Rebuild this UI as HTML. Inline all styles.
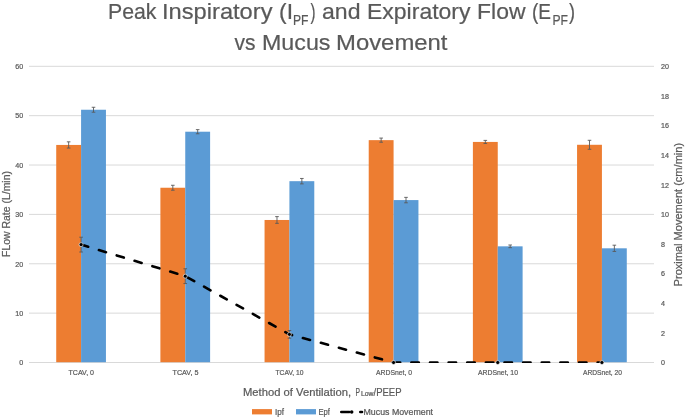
<!DOCTYPE html>
<html><head><meta charset="utf-8"><style>
html,body{margin:0;padding:0;background:#fff;width:685px;height:418px;overflow:hidden}
svg{display:block;will-change:transform}
text{font-family:"Liberation Sans", sans-serif;stroke:#595959;stroke-width:0.22px;paint-order:stroke}
</style></head><body>
<svg width="685" height="418" viewBox="0 0 685 418">
<rect width="685" height="418" fill="#fff"/>
<line x1="29.0" y1="362.50" x2="654.0" y2="362.50" stroke="#D9D9D9" stroke-width="1"/>
<line x1="29.0" y1="313.13" x2="654.0" y2="313.13" stroke="#D9D9D9" stroke-width="1"/>
<line x1="29.0" y1="263.77" x2="654.0" y2="263.77" stroke="#D9D9D9" stroke-width="1"/>
<line x1="29.0" y1="214.40" x2="654.0" y2="214.40" stroke="#D9D9D9" stroke-width="1"/>
<line x1="29.0" y1="165.03" x2="654.0" y2="165.03" stroke="#D9D9D9" stroke-width="1"/>
<line x1="29.0" y1="115.67" x2="654.0" y2="115.67" stroke="#D9D9D9" stroke-width="1"/>
<line x1="29.0" y1="66.30" x2="654.0" y2="66.30" stroke="#D9D9D9" stroke-width="1"/>
<rect x="56.22" y="144.94" width="24.86" height="217.26" fill="#ED7D31"/>
<rect x="81.08" y="109.74" width="24.86" height="252.46" fill="#5B9BD5"/>
<rect x="160.39" y="187.74" width="24.86" height="174.46" fill="#ED7D31"/>
<rect x="185.25" y="131.71" width="24.86" height="230.49" fill="#5B9BD5"/>
<rect x="264.56" y="219.98" width="24.86" height="142.22" fill="#ED7D31"/>
<rect x="289.42" y="181.18" width="24.86" height="181.02" fill="#5B9BD5"/>
<rect x="368.72" y="140.15" width="24.86" height="222.05" fill="#ED7D31"/>
<rect x="393.58" y="200.08" width="24.86" height="162.12" fill="#5B9BD5"/>
<rect x="472.89" y="141.93" width="24.86" height="220.27" fill="#ED7D31"/>
<rect x="497.75" y="246.34" width="24.86" height="115.86" fill="#5B9BD5"/>
<rect x="577.06" y="144.79" width="24.86" height="217.41" fill="#ED7D31"/>
<rect x="601.92" y="248.31" width="24.86" height="113.89" fill="#5B9BD5"/>
<path d="M68.65 141.83V148.05M66.85 141.83H70.45M66.85 148.05H70.45" stroke="#595959" stroke-width="0.9" fill="none"/>
<path d="M93.51 107.27V112.21M91.71 107.27H95.31M91.71 112.21H95.31" stroke="#595959" stroke-width="0.9" fill="none"/>
<path d="M172.82 185.27V190.21M171.02 185.27H174.62M171.02 190.21H174.62" stroke="#595959" stroke-width="0.9" fill="none"/>
<path d="M197.68 129.64V133.78M195.88 129.64H199.48M195.88 133.78H199.48" stroke="#595959" stroke-width="0.9" fill="none"/>
<path d="M276.99 216.62V223.34M275.19 216.62H278.79M275.19 223.34H278.79" stroke="#595959" stroke-width="0.9" fill="none"/>
<path d="M301.85 178.46V183.89M300.05 178.46H303.65M300.05 183.89H303.65" stroke="#595959" stroke-width="0.9" fill="none"/>
<path d="M381.15 138.08V142.23M379.35 138.08H382.95M379.35 142.23H382.95" stroke="#595959" stroke-width="0.9" fill="none"/>
<path d="M406.01 197.37V202.80M404.21 197.37H407.81M404.21 202.80H407.81" stroke="#595959" stroke-width="0.9" fill="none"/>
<path d="M485.32 140.40V143.46M483.52 140.40H487.12M483.52 143.46H487.12" stroke="#595959" stroke-width="0.9" fill="none"/>
<path d="M510.18 245.01V247.67M508.38 245.01H511.98M508.38 247.67H511.98" stroke="#595959" stroke-width="0.9" fill="none"/>
<path d="M589.49 140.30V149.29M587.69 140.30H591.29M587.69 149.29H591.29" stroke="#595959" stroke-width="0.9" fill="none"/>
<path d="M614.35 245.20V251.43M612.55 245.20H616.15M612.55 251.43H616.15" stroke="#595959" stroke-width="0.9" fill="none"/>
<clipPath id="pc"><rect x="0" y="0" width="685" height="362.9"/></clipPath>
<path d="M81.08 244.61 L185.25 276.16 L289.42 334.36 L393.58 362.50 L497.75 362.50 L601.92 362.50" clip-path="url(#pc)" fill="none" stroke="#000" stroke-width="2.6" stroke-dasharray="7.4 11.225" stroke-linecap="round" stroke-linejoin="round"/>
<path d="M81.08 237.21V252.02M79.28 237.21H82.88M79.28 252.02H82.88" stroke="#595959" stroke-width="0.9" fill="none"/>
<circle cx="81.08" cy="244.61" r="2.0" fill="#000" stroke="#fff" stroke-width="0.6"/>
<path d="M185.25 268.75V283.56M183.45 268.75H187.05M183.45 283.56H187.05" stroke="#595959" stroke-width="0.9" fill="none"/>
<circle cx="185.25" cy="276.16" r="2.0" fill="#000" stroke="#fff" stroke-width="0.6"/>
<path d="M289.42 330.51V338.21M287.62 330.51H291.22M287.62 338.21H291.22" stroke="#595959" stroke-width="0.9" fill="none"/>
<circle cx="289.42" cy="334.36" r="2.0" fill="#000" stroke="#fff" stroke-width="0.6"/>
<circle cx="393.58" cy="362.50" r="2.0" fill="#000" stroke="#fff" stroke-width="0.6"/>
<circle cx="497.75" cy="362.50" r="2.0" fill="#000" stroke="#fff" stroke-width="0.6"/>
<circle cx="601.92" cy="362.50" r="2.0" fill="#000" stroke="#fff" stroke-width="0.6"/>
<text x="23.2" y="365.25" text-anchor="end" font-size="7.6" fill="#595959" textLength="3.98" lengthAdjust="spacingAndGlyphs">0</text>
<text x="23.2" y="315.88" text-anchor="end" font-size="7.6" fill="#595959" textLength="7.96" lengthAdjust="spacingAndGlyphs">10</text>
<text x="23.2" y="266.52" text-anchor="end" font-size="7.6" fill="#595959" textLength="7.96" lengthAdjust="spacingAndGlyphs">20</text>
<text x="23.2" y="217.15" text-anchor="end" font-size="7.6" fill="#595959" textLength="7.96" lengthAdjust="spacingAndGlyphs">30</text>
<text x="23.2" y="167.78" text-anchor="end" font-size="7.6" fill="#595959" textLength="7.96" lengthAdjust="spacingAndGlyphs">40</text>
<text x="23.2" y="118.42" text-anchor="end" font-size="7.6" fill="#595959" textLength="7.96" lengthAdjust="spacingAndGlyphs">50</text>
<text x="23.2" y="69.05" text-anchor="end" font-size="7.6" fill="#595959" textLength="7.96" lengthAdjust="spacingAndGlyphs">60</text>
<text x="661" y="365.25" font-size="7.6" fill="#595959" textLength="3.98" lengthAdjust="spacingAndGlyphs">0</text>
<text x="661" y="335.63" font-size="7.6" fill="#595959" textLength="3.98" lengthAdjust="spacingAndGlyphs">2</text>
<text x="661" y="306.01" font-size="7.6" fill="#595959" textLength="3.98" lengthAdjust="spacingAndGlyphs">4</text>
<text x="661" y="276.39" font-size="7.6" fill="#595959" textLength="3.98" lengthAdjust="spacingAndGlyphs">6</text>
<text x="661" y="246.77" font-size="7.6" fill="#595959" textLength="3.98" lengthAdjust="spacingAndGlyphs">8</text>
<text x="661" y="217.15" font-size="7.6" fill="#595959" textLength="7.96" lengthAdjust="spacingAndGlyphs">10</text>
<text x="661" y="187.53" font-size="7.6" fill="#595959" textLength="7.96" lengthAdjust="spacingAndGlyphs">12</text>
<text x="661" y="157.91" font-size="7.6" fill="#595959" textLength="7.96" lengthAdjust="spacingAndGlyphs">14</text>
<text x="661" y="128.29" font-size="7.6" fill="#595959" textLength="7.96" lengthAdjust="spacingAndGlyphs">16</text>
<text x="661" y="98.67" font-size="7.6" fill="#595959" textLength="7.96" lengthAdjust="spacingAndGlyphs">18</text>
<text x="661" y="69.05" font-size="7.6" fill="#595959" textLength="7.96" lengthAdjust="spacingAndGlyphs">20</text>
<text x="68.50" y="375.2" font-size="7.9" fill="#595959" textLength="25.50" lengthAdjust="spacingAndGlyphs">TCAV, 0</text>
<text x="172.50" y="375.2" font-size="7.9" fill="#595959" textLength="26.00" lengthAdjust="spacingAndGlyphs">TCAV, 5</text>
<text x="275.50" y="375.2" font-size="7.9" fill="#595959" textLength="28.00" lengthAdjust="spacingAndGlyphs">TCAV, 10</text>
<text x="376.00" y="375.2" font-size="7.9" fill="#595959" textLength="36.00" lengthAdjust="spacingAndGlyphs">ARDSnet, 0</text>
<text x="478.00" y="375.2" font-size="7.9" fill="#595959" textLength="40.00" lengthAdjust="spacingAndGlyphs">ARDSnet, 10</text>
<text x="583.00" y="375.2" font-size="7.9" fill="#595959" textLength="39.00" lengthAdjust="spacingAndGlyphs">ARDSnet, 20</text>
<text x="108.0" y="19.1" font-size="22.5" fill="#595959" textLength="48.5" lengthAdjust="spacingAndGlyphs">Peak</text>
<text x="162.0" y="19.1" font-size="22.5" fill="#595959" textLength="110.5" lengthAdjust="spacingAndGlyphs">Inspiratory</text>
<text x="279.0" y="19.1" font-size="22.5" fill="#595959" textLength="14.0" lengthAdjust="spacingAndGlyphs">(I</text>
<text x="293.0" y="24.8" font-size="14.5" fill="#595959" textLength="15.5" lengthAdjust="spacingAndGlyphs">PF</text>
<text x="310.5" y="19.1" font-size="22.5" fill="#595959" textLength="5.0" lengthAdjust="spacingAndGlyphs">)</text>
<text x="322.0" y="19.1" font-size="22.5" fill="#595959" textLength="38.5" lengthAdjust="spacingAndGlyphs">and</text>
<text x="367.0" y="19.1" font-size="22.5" fill="#595959" textLength="103.5" lengthAdjust="spacingAndGlyphs">Expiratory</text>
<text x="477.0" y="19.1" font-size="22.5" fill="#595959" textLength="48.5" lengthAdjust="spacingAndGlyphs">Flow</text>
<text x="532.0" y="19.1" font-size="22.5" fill="#595959" textLength="19.0" lengthAdjust="spacingAndGlyphs">(E</text>
<text x="552.5" y="24.8" font-size="14.5" fill="#595959" textLength="15.5" lengthAdjust="spacingAndGlyphs">PF</text>
<text x="569.0" y="19.1" font-size="22.5" fill="#595959" textLength="6.0" lengthAdjust="spacingAndGlyphs">)</text>
<text x="234.5" y="49.7" font-size="22.5" fill="#595959" textLength="21.0" lengthAdjust="spacingAndGlyphs">vs</text>
<text x="262.0" y="49.7" font-size="22.5" fill="#595959" textLength="68.5" lengthAdjust="spacingAndGlyphs">Mucus</text>
<text x="336.0" y="49.7" font-size="22.5" fill="#595959" textLength="111.5" lengthAdjust="spacingAndGlyphs">Movement</text>
<text transform="translate(9.6 257) rotate(-90)" font-size="10.6" fill="#595959" textLength="86" lengthAdjust="spacingAndGlyphs">FLow Rate (L/min)</text>
<text transform="translate(681.5 286.4) rotate(-90)" font-size="10.4" fill="#595959" textLength="143.5" lengthAdjust="spacingAndGlyphs">Proximal Movement (cm/min)</text>
<text x="243.00" y="395.8" font-size="11" fill="#595959" textLength="108.00" lengthAdjust="spacingAndGlyphs">Method of Ventilation,</text>
<text x="355.50" y="395.8" font-size="11" fill="#595959" textLength="4.50" lengthAdjust="spacingAndGlyphs">P</text>
<text x="361.00" y="395.8" font-size="6.4" fill="#595959" textLength="12.50" lengthAdjust="spacingAndGlyphs">Low</text>
<text x="373.50" y="395.8" font-size="11" fill="#595959" textLength="28.00" lengthAdjust="spacingAndGlyphs">/PEEP</text>
<rect x="252" y="409.1" width="20" height="5.3" fill="#ED7D31"/>
<rect x="296" y="409.1" width="20" height="5.3" fill="#5B9BD5"/>
<line x1="341.3" y1="412" x2="349.3" y2="412" stroke="#000" stroke-width="2.6" stroke-linecap="round"/>
<circle cx="351.7" cy="412" r="1.75" fill="#000"/>
<line x1="360.3" y1="412" x2="362" y2="412" stroke="#000" stroke-width="2.6" stroke-linecap="round"/>
<text x="275.00" y="415" font-size="8.3" fill="#595959" textLength="9.00" lengthAdjust="spacingAndGlyphs">Ipf</text>
<text x="318.50" y="415" font-size="8.3" fill="#595959" textLength="11.50" lengthAdjust="spacingAndGlyphs">Epf</text>
<text x="363.50" y="415" font-size="8.3" fill="#595959" textLength="69.50" lengthAdjust="spacingAndGlyphs">Mucus Movement</text>
</svg>
</body></html>
